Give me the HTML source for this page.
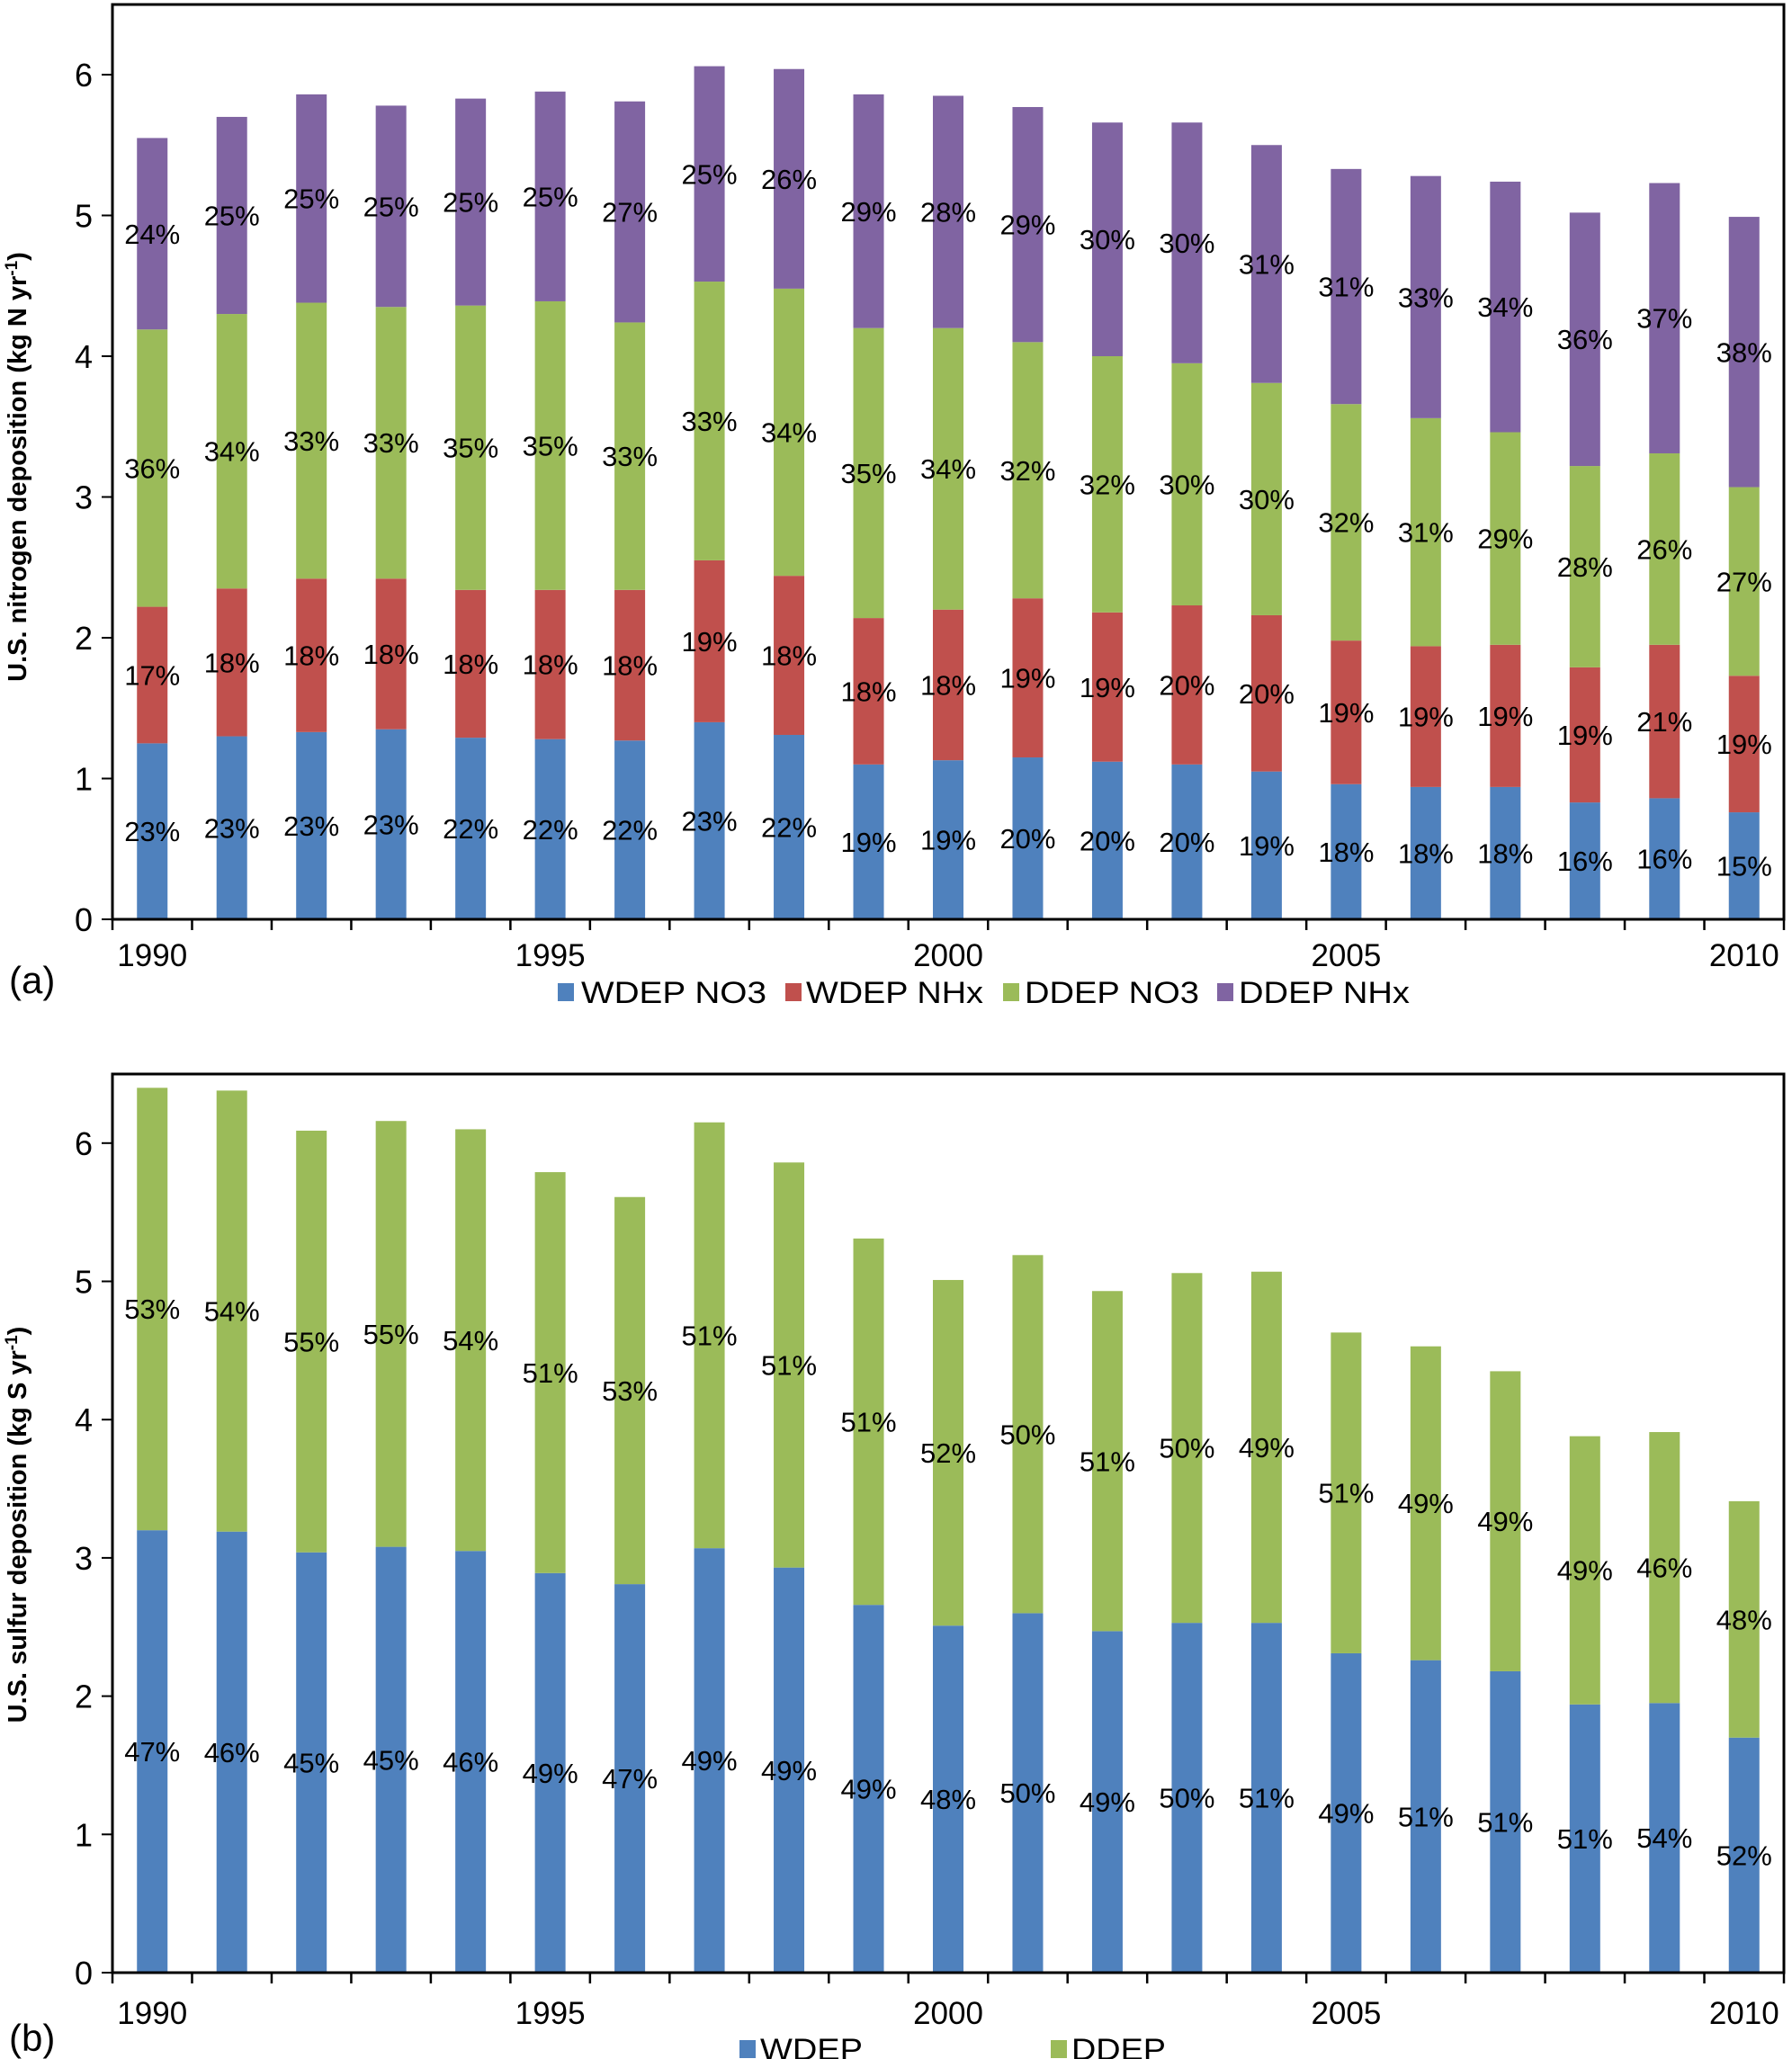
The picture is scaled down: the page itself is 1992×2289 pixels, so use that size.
<!DOCTYPE html>
<html><head><meta charset="utf-8"><style>
html,body{margin:0;padding:0;background:#fff}
svg{display:block;font-family:"Liberation Sans",sans-serif}
</style></head><body>
<svg id="c" width="1992" height="2289" viewBox="0 0 1992 2289" xmlns="http://www.w3.org/2000/svg"></svg>
<script>
const years=[1990,1991,1992,1993,1994,1995,1996,1997,1998,1999,2000,2001,2002,2003,2004,2005,2006,2007,2008,2009,2010];
const yTicks=[0,1,2,3,4,5,6];
// Panel (a) nitrogen components (kg N/yr)
const wdepNO3=[1.25,1.30,1.33,1.35,1.29,1.28,1.27,1.40,1.31,1.10,1.13,1.15,1.12,1.10,1.05,0.96,0.94,0.94,0.83,0.86,0.76];
const wdepNHx=[0.97,1.05,1.09,1.07,1.05,1.06,1.07,1.15,1.13,1.04,1.07,1.13,1.06,1.13,1.11,1.02,1.00,1.01,0.96,1.09,0.97];
const ddepNO3=[1.97,1.95,1.96,1.93,2.02,2.05,1.90,1.98,2.04,2.06,2.00,1.82,1.82,1.72,1.65,1.68,1.62,1.51,1.43,1.36,1.34];
const ddepNHx=[1.36,1.40,1.48,1.43,1.47,1.49,1.57,1.53,1.56,1.66,1.65,1.67,1.66,1.71,1.69,1.67,1.72,1.78,1.80,1.92,1.92];
const pctWNO3=["23%","23%","23%","23%","22%","22%","22%","23%","22%","19%","19%","20%","20%","20%","19%","18%","18%","18%","16%","16%","15%"];
const pctWNHx=["17%","18%","18%","18%","18%","18%","18%","19%","18%","18%","18%","19%","19%","20%","20%","19%","19%","19%","19%","21%","19%"];
const pctDNO3=["36%","34%","33%","33%","35%","35%","33%","33%","34%","35%","34%","32%","32%","30%","30%","32%","31%","29%","28%","26%","27%"];
const pctDNHx=["24%","25%","25%","25%","25%","25%","27%","25%","26%","29%","28%","29%","30%","30%","31%","31%","33%","34%","36%","37%","38%"];
// Panel (b) sulfur components (kg S/yr)
const wdepS=[3.20,3.19,3.04,3.08,3.05,2.89,2.81,3.07,2.93,2.66,2.51,2.60,2.47,2.53,2.53,2.31,2.26,2.18,1.94,1.95,1.70];
const ddepS=[3.20,3.19,3.05,3.08,3.05,2.90,2.80,3.08,2.93,2.65,2.50,2.59,2.46,2.53,2.54,2.32,2.27,2.17,1.94,1.96,1.71];
const pctWS=["47%","46%","45%","45%","46%","49%","47%","49%","49%","49%","48%","50%","49%","50%","51%","49%","51%","51%","51%","54%","52%"];
const pctDS=["53%","54%","55%","55%","54%","51%","53%","51%","51%","51%","52%","50%","51%","50%","49%","51%","49%","49%","49%","46%","48%"];

const NS="http://www.w3.org/2000/svg";
const svg=document.getElementById('c');
function el(tag,attrs,parent){const e=document.createElementNS(NS,tag);for(const k in attrs)e.setAttribute(k,attrs[k]);(parent||svg).appendChild(e);return e;}
const L=125,R=1983,step=(R-L)/years.length,bw=34;
function xc(i){return L+step*(i+0.5);}

function panel(opts){
  const g=el('g',{});
  
  
  const y=v=>opts.y0-v*opts.k;
  const base=new Array(years.length).fill(0);
  opts.series.forEach((s,si)=>{
    const sg=el('g',{},g);
    
    
    s.vals.forEach((v,i)=>{
      const b0=base[i],b1=b0+v;
      const r=el('rect',{x:xc(i)-bw/2,y:y(b1),width:bw,height:y(b0)-y(b1),fill:s.color},sg);
      
      
      const t=el('text',{x:xc(i),y:y((b0+b1)/2)+11,'font-size':31,'text-anchor':'middle',fill:'#000'},sg);
      
      
      t.textContent=s.pct[i];
      base[i]=b1;
    });
  });
  const box=el('rect',{x:L,y:opts.top,width:R-L,height:opts.y0-opts.top,fill:'none',stroke:'#000','stroke-width':3},g);
  
  
  yTicks.forEach(v=>{
    el('line',{x1:L-12,x2:L,y1:y(v),y2:y(v),stroke:'#000','stroke-width':2},g);
    const t=el('text',{x:L-22,y:y(v)+13,'font-size':36,'text-anchor':'end'},g);
    
    
    t.textContent=v;
  });
  for(let i=0;i<=years.length;i++){
    el('line',{x1:L+step*i,x2:L+step*i,y1:opts.y0,y2:opts.y0+12,stroke:'#000','stroke-width':2.5},g);
  }
  years.forEach((yr,i)=>{
    if(yr%5===0){
      const t=el('text',{x:xc(i),y:opts.yearY,'font-size':35,'text-anchor':'middle'},g);
      
      
      t.textContent=yr;
    }
  });
  const at=el('text',{transform:`translate(${opts.titleX},${opts.titleY}) rotate(-90)`,'font-size':29,'font-weight':'bold','text-anchor':'middle'},g);
  
  
  at.innerHTML=opts.title;
  const pl=el('text',{x:10,y:opts.panelY,'font-size':42},g);
  
  
  pl.textContent=opts.panel;
  opts.legend.forEach(it=>{
    const lg=el('g',{},g);
    
    
    el('rect',{x:it.sx,y:opts.legY-10,width:18,height:20,fill:it.color},lg);
    const t=el('text',{x:it.tx,y:opts.legY+12,'font-size':34,textLength:it.tw,lengthAdjust:'spacingAndGlyphs'},lg);
    t.textContent=it.label;
  });
}
const C={b:'#4f81bd',r:'#c0504d',g:'#9bbb59',p:'#8064a2'};
panel({name:'panel-a-nitrogen',top:5,y0:1022,k:156.5,yearY:1074,titleX:29,titleY:519,panelY:1104,panel:'(a)',legY:1103,
  title:'U.S.  nitrogen deposition (kg N yr<tspan baseline-shift="super" font-size="19">-1</tspan>)',
  series:[{key:'wdep-no3',vals:wdepNO3,color:C.b,pct:pctWNO3},{key:'wdep-nhx',vals:wdepNHx,color:C.r,pct:pctWNHx},{key:'ddep-no3',vals:ddepNO3,color:C.g,pct:pctDNO3},{key:'ddep-nhx',vals:ddepNHx,color:C.p,pct:pctDNHx}],
  legend:[{key:'wdep-no3',label:'WDEP NO3',color:C.b,sx:620,tx:646,tw:206},{key:'wdep-nhx',label:'WDEP NHx',color:C.r,sx:873,tx:896,tw:197},{key:'ddep-no3',label:'DDEP NO3',color:C.g,sx:1115,tx:1139,tw:194},{key:'ddep-nhx',label:'DDEP NHx',color:C.p,sx:1353,tx:1377,tw:190}]});
panel({name:'panel-b-sulfur',top:1194,y0:2193,k:153.7,yearY:2250,titleX:29,titleY:1695,panelY:2280,panel:'(b)',legY:2278,
  title:'U.S.  sulfur deposition (kg S yr<tspan baseline-shift="super" font-size="19">-1</tspan>)',
  series:[{key:'wdep',vals:wdepS,color:C.b,pct:pctWS},{key:'ddep',vals:ddepS,color:C.g,pct:pctDS}],
  legend:[{key:'wdep',label:'WDEP',color:C.b,sx:822,tx:845,tw:114},{key:'ddep',label:'DDEP',color:C.g,sx:1168,tx:1191,tw:105}]});
</script>
</body></html>
